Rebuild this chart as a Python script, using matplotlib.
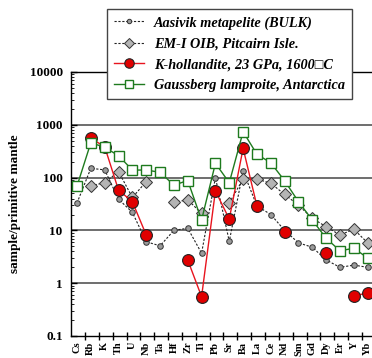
import numpy as np
import matplotlib
matplotlib.use("Agg")
import matplotlib.pyplot as plt
from matplotlib.ticker import FixedLocator, LogLocator, NullFormatter

plt.rcParams['font.family'] = ['Liberation Serif', 'DejaVu Serif']

nan = np.nan
elements = ["Cs", "Rb", "K", "Th", "U", "Nb", "Ta", "Hf", "Zr", "Ti", "Pb",
            "Sr", "Ba", "La", "Ce", "Nd", "Sm", "Gd", "Dy", "Er", "Y", "Yb"]

aasivik = [33, 150, 140, 39, 22, 6.1, 5.1, 10, 11, 3.7, 100,
           6.2, 133, 29, 20, 10, 5.8, 4.8, 2.75, 2.0, 2.2, 2.0]
em1_oib = [nan, 70, 80, 130, 42, 84, nan, 34, 38, 21, nan,
           33, 94, 94, 78, 48, 30, 17, 11.7, 8.2, 10.5, 5.8]
k_holl = [nan, 555, 385, 58, 35, 8.2, nan, nan, 2.75, 0.556, 56,
          16.4, 359, 29, nan, 9.5, nan, nan, 3.7, nan, 0.58, 0.65]
gaussberg = [69, 458, 375, 260, 139, 139, 126, 72, 88, 15.7, 187,
             80, 740, 276, 191, 87, 35, 15.7, 7.1, 4.1, 4.6, 3.0]

x = np.arange(1, len(elements) + 1)

fig = plt.figure(figsize=(3.72, 3.58), dpi=100)
ax = fig.add_axes([71 / 372, 22 / 358, 305 / 372, 264 / 358])

ax.plot(x, aasivik, ls=(0, (2, 1.5)), lw=0.8, color='#222222', marker='o',
        ms=4, mfc='#9a9a9a', mec='#333333', mew=0.7,
        label="Aasivik metapelite (BULK)", zorder=3)
ax.plot(x, em1_oib, ls=(0, (2, 1.5)), lw=0.8, color='#222222', marker='D',
        ms=6.5, mfc='#b4b4b4', mec='#333333', mew=0.7,
        label="EM-I OIB, Pitcairn Isle.", zorder=4)
ax.plot(x, k_holl, ls='-', lw=1.0, color='#e8141e', marker='o',
        ms=8.5, mfc='#e00000', mec='#222222', mew=0.8,
        label="K-hollandite, 23 GPa, 1600\u25a1C", zorder=5)
ax.plot(x, gaussberg, ls='-', lw=1.0, color='#1e7a1e', marker='s',
        ms=6.5, mfc='white', mec='#1e7a1e', mew=1.0,
        label="Gaussberg lamproite, Antarctica", zorder=6)

ax.set_yscale('log')
ax.set_ylim(0.1, 10000)
ax.set_xlim(0.567, 22.6)

ax.set_yticks([0.1, 1, 10, 100, 1000, 10000])
ax.set_yticklabels(["0.1", "1", "10", "100", "1000", "10000"],
                   fontweight='bold', fontsize=9.5)
ax.yaxis.set_minor_locator(LogLocator(base=10, subs=np.arange(2, 10)))
ax.yaxis.set_minor_formatter(NullFormatter())
ax.tick_params(axis='y', which='major', direction='in', length=4, width=1, pad=6)
ax.tick_params(axis='y', which='minor', direction='in', length=2, width=0.6)

ax.set_xticks(x)
ax.set_xticklabels(elements, rotation=90, fontweight='bold', fontsize=7.5)
ax.xaxis.set_minor_locator(FixedLocator(x + 0.58))
ax.tick_params(axis='x', which='major', length=0, pad=4)
ax.tick_params(axis='x', which='minor', direction='inout', length=6, width=1)

for yv in [1, 10, 100, 1000]:
    ax.axhline(yv, color='#555555', lw=1.2, zorder=1)

for side in ['left', 'bottom', 'top', 'right']:
    ax.spines[side].set_linewidth(1.0)
    ax.spines[side].set_color('black')

ax.set_ylabel("sample/primitive mantle", fontweight='bold', fontsize=9.5, labelpad=6)

leg = fig.legend(loc='upper left', bbox_to_anchor=(107 / 372, 1 - 9 / 358),
                 prop={'weight': 'bold', 'style': 'italic', 'size': 10.3},
                 frameon=True, fancybox=False, framealpha=1, edgecolor='#444444',
                 handlelength=2.1, handletextpad=0.7, labelspacing=0.55,
                 borderpad=0.5, borderaxespad=0, markerscale=0.8)
leg.get_frame().set_linewidth(1.0)
leg.set_zorder(10)

fig.savefig("out.png", dpi=100)
